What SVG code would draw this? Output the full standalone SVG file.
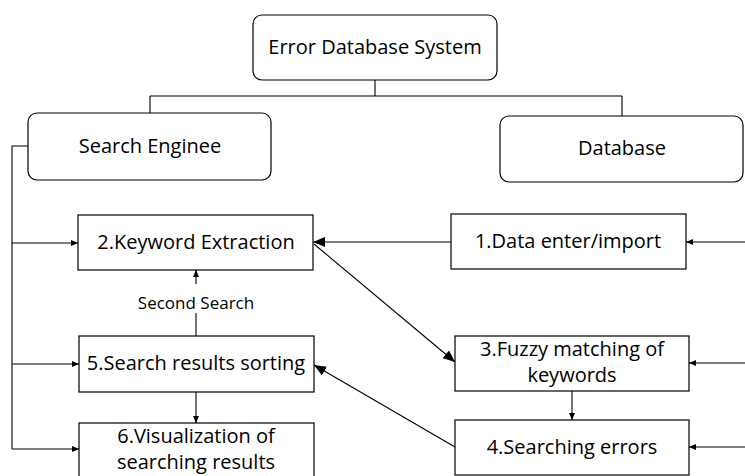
<svg xmlns="http://www.w3.org/2000/svg" width="745" height="476" viewBox="0 0 745 476">
<style>
.box{fill:#fff;stroke:#000;stroke-width:1.2}
.t{font-family:"Open Sans","Noto Sans",sans-serif;font-size:20px;fill:#000;text-anchor:middle}
.s{font-family:"Open Sans","Noto Sans",sans-serif;font-size:17px;fill:#000;text-anchor:middle}
.c{fill:none;stroke:#000;stroke-width:1.1}
</style>
<defs>
<marker id="big" viewBox="0 0 12 10" refX="12" refY="5" markerWidth="12" markerHeight="10" markerUnits="userSpaceOnUse" orient="auto"><path d="M0,0 L12,5 L0,10 z" fill="#000"/></marker>
<marker id="sm" viewBox="0 0 7 6" refX="7" refY="3" markerWidth="7" markerHeight="6" markerUnits="userSpaceOnUse" orient="auto"><path d="M0,0 L7,3 L0,6 z" fill="#000"/></marker>
</defs>
<rect width="745" height="476" fill="#fff"/>
<g id="connectors">
<path class="c" d="M375,80 V96 M150,96 H622 M150,96 V113 M622,96 V116"/>
<path class="c" d="M28,146 H12 V449"/>
<path class="c" d="M12,243 H78" marker-end="url(#sm)"/>
<path class="c" d="M12,364 H79" marker-end="url(#sm)"/>
<path class="c" d="M12,449 H79" marker-end="url(#sm)"/>
<path class="c" d="M451,242 H313" marker-end="url(#big)"/>
<path class="c" d="M745,242 H686" marker-end="url(#sm)"/>
<path class="c" d="M745,363 H689" marker-end="url(#sm)"/>
<path class="c" d="M745,447 H689" marker-end="url(#sm)"/>
<path class="c" d="M314,244 L455,362" marker-end="url(#big)"/>
<path class="c" d="M455,447 L314,365" marker-end="url(#big)"/>
<path class="c" d="M196,336 V270" marker-end="url(#sm)"/>
<path class="c" d="M196,392 V423" marker-end="url(#sm)"/>
<path class="c" d="M572,391 V420" marker-end="url(#sm)"/>
<rect x="130" y="284" width="132" height="29" fill="#fff"/>
<text class="s" x="196" y="309">Second Search</text>
</g>
<g id="n0"><rect class="box" x="253" y="15" width="244" height="65" rx="9"/><text class="t" x="375" y="54">Error Database System</text></g>
<g id="n_search"><rect class="box" x="28" y="113" width="243" height="67" rx="9"/><text class="t" x="150" y="153">Search Enginee</text></g>
<g id="n_db"><rect class="box" x="500" y="116" width="243" height="66" rx="9"/><text class="t" x="622" y="155">Database</text></g>
<g id="n2"><rect class="box" x="78" y="215" width="235" height="55"/><text class="t" x="196" y="249">2.Keyword Extraction</text></g>
<g id="n1"><rect class="box" x="451" y="214" width="235" height="55"/><text class="t" x="568" y="248">1.Data enter/import</text></g>
<g id="n5"><rect class="box" x="79" y="336" width="235" height="56"/><text class="t" x="196" y="370">5.Search results sorting</text></g>
<g id="n3"><rect class="box" x="455" y="336" width="234" height="55"/><text class="t" x="572" y="356">3.Fuzzy matching of</text><text class="t" x="572" y="382">keywords</text></g>
<g id="n6"><rect class="box" x="79" y="423" width="235" height="60"/><text class="t" x="196" y="443">6.Visualization of</text><text class="t" x="196" y="469">searching results</text></g>
<g id="n4"><rect class="box" x="455" y="420" width="234" height="55"/><text class="t" x="572" y="454">4.Searching errors</text></g>
</svg>
